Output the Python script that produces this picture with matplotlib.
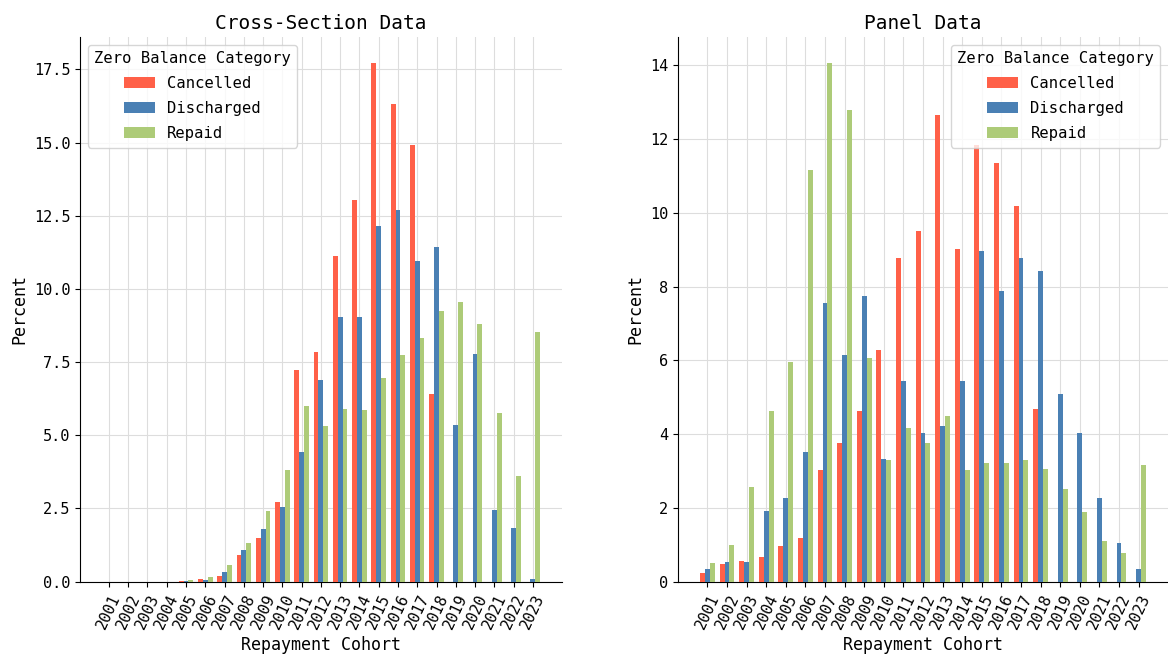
import matplotlib
matplotlib.use("Agg")
import matplotlib.pyplot as plt
import numpy as np

plt.rcParams['font.family'] = ['DejaVu Sans Mono']

cohorts = [str(y) for y in range(2001, 2024)]
categories = ['Cancelled', 'Discharged', 'Repaid']
colors = ['#ff6048', '#4a80b4', '#adcb78']

# Cross-section data (percent)
cs_cancelled = [0, 0, 0, 0, 0.01, 0.09, 0.20, 0.90, 1.49, 2.73, 7.24, 7.86,
                11.11, 13.04, 17.72, 16.32, 14.93, 6.41, 0, 0, 0, 0, 0]
cs_discharged = [0, 0, 0, 0, 0.01, 0.05, 0.33, 1.09, 1.81, 2.56, 4.42, 6.89,
                 9.03, 9.03, 12.15, 12.69, 10.95, 11.43, 5.36, 7.78, 2.45, 1.85, 0.10]
cs_repaid = [0, 0, 0, 0, 0.05, 0.17, 0.57, 1.32, 2.43, 3.83, 5.99, 5.32,
             5.91, 5.86, 6.97, 7.74, 8.31, 9.24, 9.56, 8.80, 5.77, 3.62, 8.52]

# Panel data (percent)
pn_cancelled = [0.23, 0.47, 0.57, 0.67, 0.96, 1.19, 3.03, 3.77, 4.62, 6.28, 8.76, 9.50,
                12.64, 9.01, 11.83, 11.34, 10.18, 4.68, 0, 0, 0, 0, 0]
pn_discharged = [0.35, 0.53, 0.53, 1.92, 2.27, 3.51, 7.55, 6.15, 7.73, 3.33, 5.43, 4.03,
                 4.22, 5.43, 8.96, 7.89, 8.76, 8.43, 5.09, 4.03, 2.27, 1.05, 0.35]
pn_repaid = [0.51, 1.00, 2.57, 4.62, 5.96, 11.17, 14.06, 12.79, 6.07, 3.31, 4.17, 3.75,
             4.49, 3.03, 3.21, 3.22, 3.31, 3.05, 2.50, 1.88, 1.10, 0.78, 3.15]

panels = [
    ('Cross-Section Data', [cs_cancelled, cs_discharged, cs_repaid], 'upper left'),
    ('Panel Data', [pn_cancelled, pn_discharged, pn_repaid], 'upper right'),
]

fig, axes = plt.subplots(1, 2, figsize=(11.68, 6.61), dpi=100)

x = np.arange(len(cohorts))
width = 0.25

for ax, (title, series, loc) in zip(axes, panels):
    for i, (name, vals, c) in enumerate(zip(categories, series, colors)):
        ax.bar(x + (i - 1) * width, vals, width, color=c, label=name, zorder=3)
    ax.set_xticks(x)
    ax.set_xticklabels(cohorts, rotation=65, ha='center', fontsize=11)
    ax.tick_params(axis='y', labelsize=11)
    ax.set_xlim(-1.5, len(cohorts) + 0.5)
    ax.grid(True, color='#dddddd', linewidth=0.8, zorder=0)
    ax.set_axisbelow(True)
    ax.spines['top'].set_visible(False)
    ax.spines['right'].set_visible(False)
    ax.set_title(title, fontsize=14)
    ax.set_xlabel('Repayment Cohort', fontsize=12)
    ax.set_ylabel('Percent', fontsize=12)
    ax.legend(title='Zero Balance Category', loc=loc, fontsize=11.2,
              title_fontsize=11.2, labelspacing=0.65)

axes[0].set_position([0.0685, 0.12, 0.4125, 0.824])
axes[1].set_position([0.5805, 0.12, 0.4195, 0.824])

fig.savefig('out.png', dpi=100)
